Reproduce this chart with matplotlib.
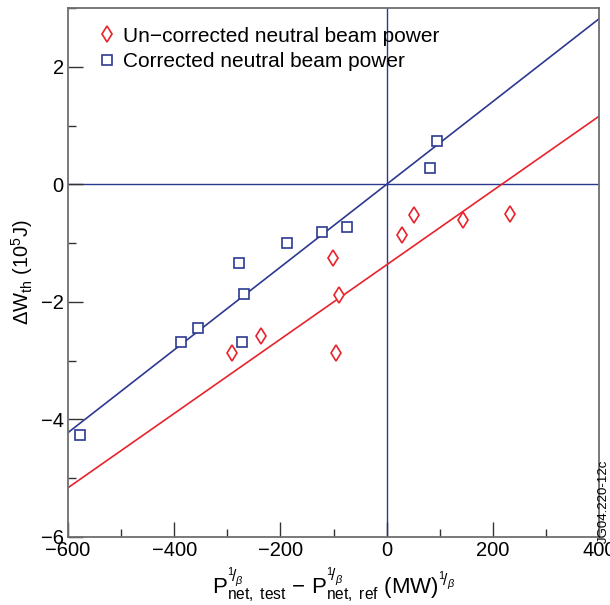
import matplotlib
matplotlib.use("Agg")
import numpy as np
import matplotlib.pyplot as plt
from matplotlib.ticker import MultipleLocator

# Un-corrected neutral beam power (red diamonds)
uncorr_x = [-291, -237, -101, -89, -95, 29, 52, 143, 233]
uncorr_y = [-2.87, -2.58, -1.26, -1.89, -2.87, -0.86, -0.53, -0.61, -0.51]

# Corrected neutral beam power (blue squares)
corr_x = [-577, -387, -356, -278, -272, -268, -188, -121, -75, 81, 95]
corr_y = [-4.26, -2.68, -2.45, -1.34, -2.68, -1.87, -1.00, -0.81, -0.73, 0.27, 0.73]

# fitted lines: slope, intercept
uncorr_fit = [0.00632, -1.37]
corr_fit = [0.00704, 0.0]

red = "#e8232b"
blue = "#2b3990"
grey = "#6d6e71"

plt.rcParams["font.family"] = ["Liberation Sans", "DejaVu Sans"]
plt.rcParams["mathtext.fontset"] = "custom"
plt.rcParams["mathtext.rm"] = "Liberation Sans"
plt.rcParams["mathtext.it"] = "Liberation Sans:italic"

fig = plt.figure(figsize=(6.1, 6.05), dpi=100)
ax = fig.add_axes([0.1115, 0.1124, 0.8705, 0.8744])

xl = np.array([-600, 400])
ax.plot(xl, corr_fit[0] * xl + corr_fit[1], color=blue, lw=1.2, zorder=2)
ax.plot(xl, uncorr_fit[0] * xl + uncorr_fit[1], color=red, lw=1.2, zorder=2)
ax.axhline(0, color=blue, lw=1.0, zorder=1)
ax.axvline(0, color=blue, lw=1.0, zorder=1)

ax.plot(uncorr_x, uncorr_y, linestyle="none", marker="d", ms=8.5, mfc="white",
        mec=red, mew=1.2, label="Un\u2212corrected neutral beam power", zorder=3)
ax.plot(corr_x, corr_y, linestyle="none", marker="s", ms=6.5, mfc="white",
        mec=blue, mew=1.2, label="Corrected neutral beam power", zorder=3)

ax.set_xlim(-600, 400)
ax.set_ylim(-6, 3)
ax.xaxis.set_major_locator(MultipleLocator(200))
ax.xaxis.set_minor_locator(MultipleLocator(100))
ax.yaxis.set_major_locator(MultipleLocator(2))
ax.yaxis.set_minor_locator(MultipleLocator(1))
ax.tick_params(which="both", direction="in", top=False, right=False,
               color="#333333", labelsize=14.5, pad=3)
ax.tick_params(which="major", length=11, width=1.0)
ax.tick_params(which="minor", length=6, width=1.0)
for s in ax.spines.values():
    s.set_color(grey)
    s.set_linewidth(1.3)

ax.set_ylabel(r"$\Delta$W$_{\rm th}$ (10$^5$J)", fontsize=14.5, labelpad=4)
ax.set_xlabel(r"P$^{{}^1\!/_\beta}_{\rm net,\ test}$ $-$ P$^{{}^1\!/_\beta}_{\rm net,\ ref}$ (MW)$^{{}^1\!/_\beta}$",
              fontsize=16, labelpad=4)

leg = ax.legend(loc="upper left", frameon=False, fontsize=15, handlelength=0.8,
                handletextpad=0.35, labelspacing=0.3, borderaxespad=0.4,
                bbox_to_anchor=(0.027, 0.996))

fig.text(0.99, 0.1025, "JG04.220-12c", rotation=90, fontsize=9.5, ha="center",
         va="bottom")

fig.savefig("out.png", dpi=100)
